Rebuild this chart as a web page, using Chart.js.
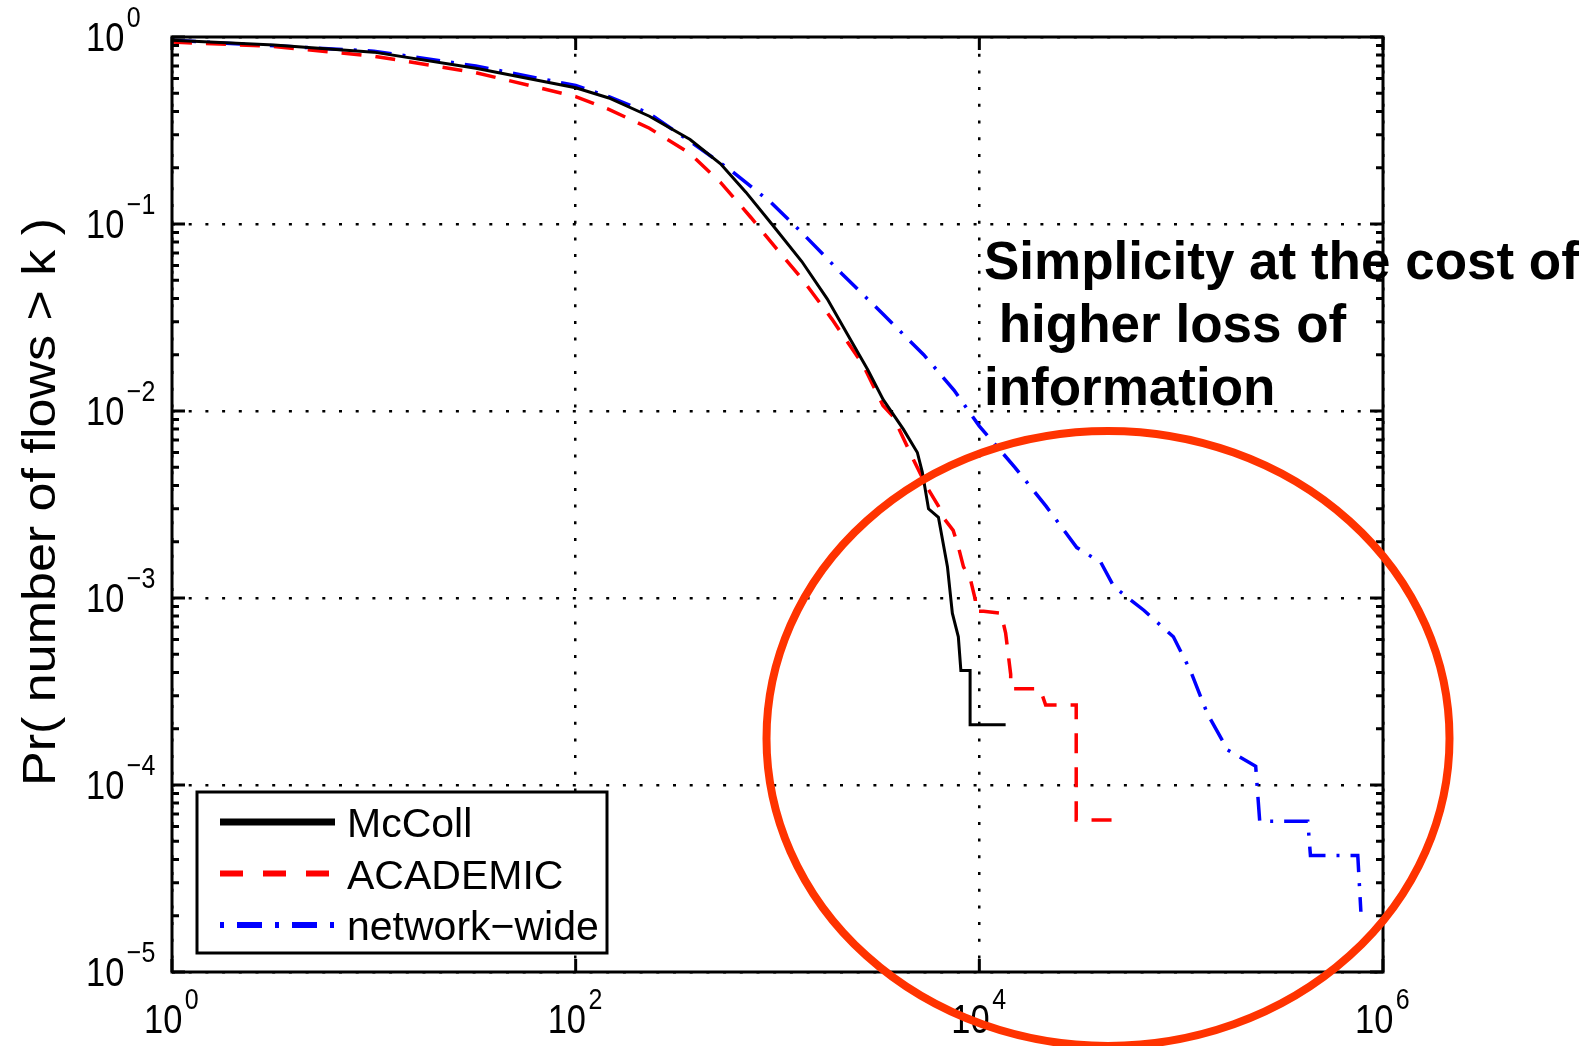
<!DOCTYPE html>
<html>
<head>
    <title>Pr( number of flows > k )</title>
    <script src="https://cdn.jsdelivr.net/npm/chart.js"></script>
    <style>
html, body {
    margin: 0;
    padding: 0;
    background: #fff;
}
    </style>
</head>
<body>
    <canvas id="ccdf" width="1591" height="1046"></canvas>
    <script>
        // Axis ticks (log scales)
        const xTicks = [1, 1e2, 1e4, 1e6];
        const xTickExp = ['0', '2', '4', '6'];
        const yTicks = [1, 1e-1, 1e-2, 1e-3, 1e-4, 1e-5];
        const yTickExp = ['0', '\u22121', '\u22122', '\u22123', '\u22124', '\u22125'];

        // McColl
        const mccollK = [1, 3.2, 10, 32, 100, 146, 232, 369, 522, 697, 930, 1320, 1763, 2220, 2800, 3340,
                         4200, 4930, 5220, 5600, 6270, 6950, 7350, 7870, 8100, 9000, 9000, 13500];
        const mccollP = [0.96, 0.905, 0.83, 0.68, 0.535, 0.472, 0.377, 0.283, 0.21, 0.148, 0.101, 0.063, 0.0398, 0.0257, 0.0166, 0.0115,
                         0.0080, 0.0060, 0.0047, 0.0030, 0.0027, 0.00147, 0.00083, 0.00062, 0.00041, 0.00041, 0.00021, 0.00021];

        // ACADEMIC
        const academicK = [1, 3.2, 10, 32, 100, 146, 232, 369, 522, 740, 986, 1320, 1860, 2650, 3330, 3750, 4710, 5520,
                           6270, 6620, 7420, 7870, 8340, 9030, 9550, 9550, 10500, 12800, 13500, 14300, 14300,
                           20000, 21300, 28300, 30200, 30200, 46000];
        const academicP = [0.94, 0.89, 0.79, 0.645, 0.48, 0.41, 0.325, 0.238, 0.167, 0.108, 0.074, 0.051, 0.031, 0.0177, 0.0107, 0.0093, 0.0055, 0.0039,
                           0.0031, 0.0027, 0.0023, 0.00188, 0.00147, 0.00126, 0.00098, 0.00085, 0.00085, 0.00083, 0.00065, 0.00039, 0.000327,
                           0.000327, 0.000268, 0.000268, 0.000268, 0.000065, 0.000065];

        // network-wide
        const networkK = [1, 10, 32, 100, 146, 232, 369, 582, 930, 1320, 2090, 3330, 5300, 7500, 10000, 15000, 21400, 30400,
                          40000, 46400, 65300, 91500, 111000, 135000, 170000, 234000, 245000, 424000, 437000, 750000, 777000];
        const networkP = [0.96, 0.84, 0.70, 0.55, 0.48, 0.39, 0.276, 0.195, 0.13, 0.09, 0.054, 0.033, 0.020, 0.0129, 0.0083, 0.0050, 0.0031, 0.00186,
                          0.00155, 0.00115, 0.00086, 0.00062, 0.00041, 0.00024, 0.000154, 0.000126, 0.000064, 0.000064, 0.000042, 0.000042, 0.000021];

        const FONT = '"Liberation Sans", Arial, Helvetica, sans-serif';

        function pts(ks, ps) {
          return ks.map((k, i) => ({ x: k, y: ps[i] }));
        }

        // draws "10" with a superscript exponent, squeezed a bit like the original
        function drawPow(ctx, left, baseY, exp) {
          const sx = 0.86;
          ctx.save();
          ctx.font = '40px ' + FONT;
          ctx.textAlign = 'left';
          ctx.textBaseline = 'alphabetic';
          ctx.translate(left, baseY);
          ctx.scale(sx, 1);
          ctx.fillText('10', 0, 0);
          const w = ctx.measureText('10').width;
          ctx.font = '29px ' + FONT;
          ctx.fillText(exp, w + 3, -24);
          ctx.restore();
        }

        const frame = {
          id: 'frame',
          afterDatasetsDraw(chart) {
            const { ctx, chartArea: a, scales: { x, y } } = chart;
            ctx.save();
            ctx.strokeStyle = '#000';
            ctx.lineWidth = 3;
            ctx.beginPath();
            xTicks.forEach(v => {
              const px = x.getPixelForValue(v);
              ctx.moveTo(px, a.bottom); ctx.lineTo(px, a.bottom - 13);
              ctx.moveTo(px, a.top); ctx.lineTo(px, a.top + 13);
            });
            yTicks.forEach(v => {
              const py = y.getPixelForValue(v);
              ctx.moveTo(a.left, py); ctx.lineTo(a.left + 13, py);
              ctx.moveTo(a.right, py); ctx.lineTo(a.right - 13, py);
            });
            for (let e = -5; e < 0; e++) {
              for (let m = 2; m <= 9; m++) {
                const py = y.getPixelForValue(m * Math.pow(10, e));
                ctx.moveTo(a.left, py); ctx.lineTo(a.left + 7, py);
                ctx.moveTo(a.right, py); ctx.lineTo(a.right - 7, py);
              }
            }
            ctx.stroke();
            ctx.strokeRect(a.left, a.top, a.right - a.left, a.bottom - a.top);

            // tick labels
            ctx.fillStyle = '#000';
            xTicks.forEach((v, i) => {
              const px = x.getPixelForValue(v);
              drawPow(ctx, px - 28, a.bottom + 61, xTickExp[i]);
            });
            yTicks.forEach((v, i) => {
              const py = y.getPixelForValue(v);
              drawPow(ctx, 86, py + 14, yTickExp[i]);
            });

            // y axis title
            ctx.save();
            ctx.translate(55, 502);
            ctx.rotate(-Math.PI / 2);
            ctx.font = '46px ' + FONT;
            ctx.textAlign = 'center';
            ctx.textBaseline = 'alphabetic';
            const title = 'Pr( number of flows > k )';
            ctx.scale(568 / ctx.measureText(title).width, 1);
            ctx.fillText(title, 0, 0);
            ctx.restore();
            ctx.restore();
          }
        };

        const extras = {
          id: 'extras',
          afterDraw(chart) {
            const { ctx, scales: { x, y } } = chart;
            ctx.save();

            // legend box
            ctx.fillStyle = '#fff';
            ctx.fillRect(197, 792, 410, 161);
            ctx.strokeStyle = '#000';
            ctx.lineWidth = 3;
            ctx.strokeRect(197, 792, 410, 161);
            ctx.font = '41px ' + FONT;
            ctx.fillStyle = '#000';
            ctx.textBaseline = 'alphabetic';
            chart.data.datasets.forEach((ds, i) => {
              const cy = 822 + i * 51.5;
              ctx.beginPath();
              ctx.strokeStyle = ds.borderColor;
              ctx.lineWidth = ds.legendWidth;
              ctx.setLineDash(ds.legendDash);
              ctx.moveTo(220, cy);
              ctx.lineTo(335, cy);
              ctx.stroke();
              ctx.setLineDash([]);
              ctx.fillText(ds.label, 347, cy + 15);
            });

            // annotation
            ctx.font = 'bold 53px ' + FONT;
            ctx.fillText('Simplicity at the cost of', 984, 279);
            ctx.fillText(' higher loss of', 984, 342);
            ctx.fillText('information', 984, 405);

            // red ellipse around the tails
            ctx.beginPath();
            ctx.strokeStyle = '#ff3300';
            ctx.lineWidth = 8;
            ctx.ellipse(x.getPixelForValue(43400), y.getPixelForValue(1.775e-4), 341.5, 307.5, 0, 0, 2 * Math.PI);
            ctx.stroke();
            ctx.restore();
          }
        };

        const ctx = document.getElementById('ccdf').getContext('2d');
        const ccdfChart = new Chart(ctx, {
          type: 'scatter',
          data: {
            datasets: [
              {
                label: 'McColl',
                data: pts(mccollK, mccollP),
                borderColor: '#000000',
                borderWidth: 3,
                borderDash: [],
                legendDash: [],
                legendWidth: 7,
              },
              {
                label: 'ACADEMIC',
                data: pts(academicK, academicP),
                borderColor: '#ff0000',
                borderWidth: 3.5,
                borderDash: [20, 14],
                legendDash: [23, 20],
                legendWidth: 6,
              },
              {
                label: 'network\u2212wide',
                data: pts(networkK, networkP),
                borderColor: '#0000ff',
                borderWidth: 3.5,
                borderDash: [24, 11, 3, 11],
                legendDash: [4, 13, 25, 13],
                legendWidth: 6,
              },
            ],
          },
          options: {
            responsive: false,
            animation: false,
            showLine: true,
            elements: {
              point: { radius: 0 },
              line: { tension: 0, fill: false },
            },
            layout: { padding: { left: 172, top: 37, right: 208, bottom: 74 } },
            plugins: {
              legend: { display: false },
              tooltip: { enabled: false },
            },
            scales: {
              x: {
                type: 'logarithmic',
                min: 1,
                max: 1e6,
                afterBuildTicks: s => { s.ticks = xTicks.map(v => ({ value: v })); },
                ticks: { display: false },
                grid: { color: '#000', lineWidth: 2.5, drawTicks: false },
                border: { display: false, dash: [3, 13.7] },
              },
              y: {
                type: 'logarithmic',
                min: 1e-5,
                max: 1,
                afterBuildTicks: s => { s.ticks = yTicks.map(v => ({ value: v })); },
                ticks: { display: false },
                grid: { color: '#000', lineWidth: 2.5, drawTicks: false },
                border: { display: false, dash: [3, 13.7] },
              },
            },
          },
          plugins: [frame, extras],
        });
    </script>
</body>
</html>
